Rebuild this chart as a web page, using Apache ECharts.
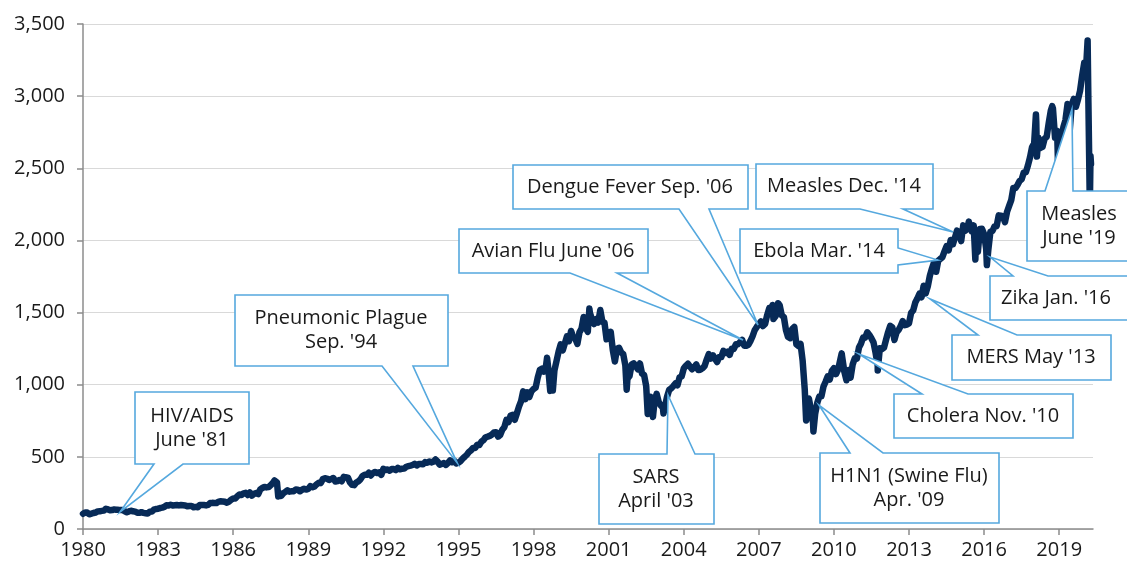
<!DOCTYPE html>
<html>
<head>
<meta charset="utf-8">
<script src="https://cdn.jsdelivr.net/npm/echarts@6/dist/echarts.min.js"></script>
<style>
  html, body { margin: 0; padding: 0; background: #fff; }
  #chart { width: 1127px; height: 564px; }
</style>
</head>
<body>
<div id="chart"></div>
<script>
// S&P 500 month-end closes, one array per decade (Jan..Dec)
var closes1980s = [
  114.2, 113.7, 102.1, 106.3, 111.2, 114.2, 121.7, 122.4, 125.5, 127.5, 140.5, 135.8,
  129.6, 131.3, 136.0, 132.8, 132.6, 131.2, 130.9, 122.8, 116.2, 121.9, 126.4, 122.6,
  120.4, 113.1, 112.0, 116.4, 111.9, 109.6, 107.1, 119.5, 120.4, 133.7, 138.5, 140.6,
  145.3, 148.1, 153.0, 164.4, 162.4, 168.1, 162.6, 164.4, 166.1, 163.6, 166.4, 164.9,
  163.4, 157.1, 159.2, 160.1, 150.6, 153.2, 150.7, 166.7, 166.1, 166.1, 163.6, 167.2,
  179.6, 181.2, 180.7, 179.8, 189.6, 191.9, 190.9, 188.6, 182.1, 189.8, 202.2, 211.3,
  211.8, 226.9, 238.9, 235.5, 247.4, 250.8, 236.1, 252.9, 231.3, 244.0, 249.2, 242.2,
  274.1, 284.2, 291.7, 288.4, 290.1, 304.0, 318.7, 329.8, 321.8, 251.8, 230.3, 247.1,
  257.1, 267.8, 258.9, 261.3, 262.2, 273.5, 272.0, 261.5, 271.9, 279.0, 273.7, 277.7,
  297.5, 288.9, 294.9, 309.6, 320.5, 318.0, 346.1, 351.5, 349.2, 340.4, 346.0, 353.4
];
var closes1990s = [
  329.1, 331.9, 339.9, 330.8, 361.2, 358.0, 356.2, 322.6, 306.1, 304.0, 322.2, 330.2,
  343.9, 367.1, 375.2, 375.3, 389.8, 371.2, 387.8, 395.4, 387.9, 392.5, 375.2, 417.1,
  408.8, 412.7, 403.7, 415.0, 415.4, 408.1, 424.2, 414.0, 417.8, 418.7, 431.4, 435.7,
  438.8, 443.4, 451.7, 440.2, 450.2, 450.5, 448.1, 463.6, 458.9, 467.8, 461.8, 466.5,
  481.6, 467.1, 445.8, 450.9, 456.5, 444.3, 458.3, 475.5, 462.7, 472.4, 454.0, 459.3,
  470.4, 487.4, 500.7, 514.7, 533.4, 544.8, 562.1, 561.9, 584.4, 581.5, 605.4, 615.9,
  636.0, 640.4, 645.5, 654.2, 669.1, 670.6, 640.0, 652.0, 687.3, 705.3, 757.0, 740.7,
  786.2, 790.8, 757.1, 801.3, 848.3, 885.1, 954.3, 899.5, 947.3, 914.6, 955.4, 970.4,
  980.3, 1049.3, 1101.8, 1111.8, 1090.8, 1133.8, 1120.7, 957.3, 1017.0, 1098.7, 1163.6, 1229.2,
  1279.6, 1238.3, 1286.4, 1335.2, 1301.8, 1372.7, 1328.7, 1320.4, 1282.7, 1362.9, 1388.9, 1469.3
];
var closes2000s = [
  1394.5, 1366.4, 1498.6, 1452.4, 1420.6, 1454.6, 1430.8, 1517.7, 1436.5, 1429.4, 1315.2, 1320.3,
  1366.0, 1239.9, 1160.3, 1249.5, 1255.8, 1224.4, 1211.2, 1133.6, 1040.9, 1059.8, 1139.5, 1148.1,
  1130.2, 1106.7, 1147.4, 1076.9, 1067.1, 989.8, 911.6, 916.1, 815.3, 885.8, 936.3, 879.8,
  855.7, 841.2, 848.2, 916.9, 963.6, 974.5, 990.3, 1008.0, 996.0, 1050.7, 1058.2, 1111.9,
  1131.1, 1144.9, 1126.2, 1107.3, 1120.7, 1140.8, 1101.7, 1104.2, 1114.6, 1130.2, 1173.8, 1211.9,
  1181.3, 1203.6, 1180.6, 1156.9, 1191.5, 1191.3, 1234.2, 1220.3, 1228.8, 1207.0, 1249.5, 1248.3,
  1280.1, 1280.7, 1294.9, 1310.6, 1270.1, 1270.2, 1276.7, 1303.8, 1335.9, 1377.9, 1400.6, 1418.3,
  1438.2, 1406.8, 1420.9, 1482.4, 1530.6, 1503.4, 1455.3, 1474.0, 1526.8, 1549.4, 1481.1, 1468.4,
  1378.6, 1330.6, 1322.7, 1385.6, 1400.4, 1280.0, 1267.4, 1282.8, 1166.4, 968.8, 896.2, 903.3,
  825.9, 735.1, 797.9, 872.8, 919.1, 919.3, 987.5, 1020.6, 1057.1, 1036.2, 1095.6, 1115.1
];
var closes2010s = [
  1073.9, 1104.5, 1169.4, 1186.7, 1089.4, 1030.7, 1101.6, 1049.3, 1141.2, 1183.3, 1180.6, 1257.6,
  1286.1, 1327.2, 1325.8, 1363.6, 1345.2, 1320.6, 1292.3, 1218.9, 1131.4, 1253.3, 1247.0, 1257.6,
  1312.4, 1365.7, 1408.5, 1397.9, 1310.3, 1362.2, 1379.3, 1406.6, 1440.7, 1412.2, 1416.2, 1426.2,
  1498.1, 1514.7, 1569.2, 1597.6, 1630.7, 1606.3, 1685.7, 1633.0, 1681.6, 1756.5, 1805.8, 1848.4,
  1782.6, 1859.5, 1872.3, 1884.0, 1923.6, 1960.2, 1930.7, 2003.4, 1972.3, 2018.1, 2067.6, 2058.9,
  1995.0, 2104.5, 2067.9, 2085.5, 2107.4, 2063.1, 2103.8, 1972.2, 1920.0, 2079.4, 2080.4, 2043.9,
  1940.2, 1932.2, 2059.7, 2065.3, 2097.0, 2098.9, 2173.6, 2171.0, 2168.3, 2126.2, 2198.8, 2238.8,
  2278.9, 2363.6, 2362.7, 2384.2, 2411.8, 2423.4, 2470.3, 2471.7, 2519.4, 2575.3, 2647.6, 2673.6,
  2823.8, 2713.8, 2640.9, 2648.1, 2705.3, 2718.4, 2816.3, 2901.5, 2914.0, 2711.7, 2760.2, 2506.9,
  2704.1, 2784.5, 2834.4, 2945.8, 2752.1, 2941.8, 2980.4, 2926.5, 2976.7, 3037.6, 3141.0, 3230.8
];
var closes2020 = [3225.5, 2954.2, 2584.6];

// intra-month highs / lows (decimal year, level)
var swingDates  = [1980.0, 1987.65, 1987.80, 1990.78, 1998.54, 1998.77, 2000.23, 2000.67, 2001.72,
                   2002.56, 2002.77, 2003.19, 2007.55, 2007.77, 2008.89, 2009.18, 2010.31, 2010.50,
                   2011.75, 2015.39, 2015.65, 2016.11, 2018.07, 2018.11, 2018.72, 2018.98, 2019.42,
                   2020.135, 2020.224, 2020.27];
var swingLevels = [105.8, 336.8, 224.8, 295.5, 1186.8, 959.4, 1527.5, 1520.8, 965.8,
                   797.7, 776.8, 800.7, 1553.1, 1565.2, 752.4, 676.5, 1217.3, 1022.6,
                   1099.2, 2130.8, 1867.6, 1829.1, 2872.9, 2581.0, 2930.8, 2351.1, 2744.5,
                   3386.2, 2237.4, 2530.0];

var tickYears = [1980, 1983, 1986, 1989, 1992, 1995, 1998, 2001, 2004, 2007, 2010, 2013, 2016, 2019];

// outbreak callouts
var eventNames = ["HIV/AIDS\nJune '81", "Pneumonic Plague\nSep. '94", "SARS\nApril '03",
                  "Avian Flu June '06", "Dengue Fever Sep. '06", "H1N1 (Swine Flu)\nApr. '09",
                  "Cholera Nov. '10", "MERS May '13", "Ebola Mar. '14", "Measles Dec. '14",
                  "Zika Jan. '16", "Measles\nJune '19"];
var eventDates  = [1981.48, 1994.95, 2003.37, 2006.37, 2006.97, 2009.40, 2011.00, 2013.84, 2014.16, 2014.76, 2016.24, 2019.51];
var eventLevels = [118, 458, 929, 1310, 1414, 859, 1213, 1594, 1864, 2058, 1885, 2910];

// box layout: x0, y0, x1, y1, side of the pointer, pointer base from / to, text centre x
var boxLayout = [
  [135, 392, 249, 464, 'bottom', 154, 183, 192],
  [235, 295, 448, 366, 'bottom', 382, 413, 341],
  [599, 454, 714, 524, 'top', 667, 695, 656],
  [459, 229, 648, 273, 'bottom', 570, 617, 553],
  [513, 165, 748, 209, 'bottom', 679, 709, 630],
  [820, 453, 999, 523, 'top', 850, 883, 909],
  [894, 394, 1073, 438, 'top', 922, 968, 983],
  [952, 335, 1111, 380, 'top', 978, 1017, 1031],
  [740, 229, 898, 273, 'right', 248, 265, 819],
  [756, 164, 933, 209, 'bottom', 860, 903, 844],
  [990, 276, 1140, 320, 'top', 1013, 1048, 1056],
  [1027, 191, 1140, 261, 'top', 1045, 1073, 1079]
];

var seriesData = [];
function addDecade(start, arr) {
  for (var i = 0; i < arr.length; i++) {
    seriesData.push([start + (i + 1) / 12, arr[i]]);
  }
}
addDecade(1980, closes1980s);
addDecade(1990, closes1990s);
addDecade(2000, closes2000s);
addDecade(2010, closes2010s);
addDecade(2020, closes2020);
for (var s = 0; s < swingDates.length; s++) {
  seriesData.push([swingDates[s], swingLevels[s]]);
}
seriesData.sort(function (a, b) { return a[0] - b[0]; });

var myChart = echarts.init(document.getElementById('chart'));
var FONT = '"Open Sans", "Noto Sans", sans-serif';

var option = {
  animation: false,
  backgroundColor: '#fff',
  grid: { left: 83, right: 34, top: 24, bottom: 35 },
  xAxis: {
    type: 'value',
    min: 1980,
    max: 2020.35,
    interval: 3,
    axisLine: { lineStyle: { color: '#8c8c8c', width: 1.5 } },
    axisTick: { show: true, length: 6, customValues: tickYears, lineStyle: { color: '#8c8c8c', width: 1.5 } },
    axisLabel: {
      customValues: tickYears,
      margin: 11,
      color: '#1a1a1a',
      fontSize: 20,
      fontFamily: FONT,
      formatter: function (v) { return String(Math.round(v)); }
    },
    splitLine: { show: false }
  },
  yAxis: {
    type: 'value',
    min: 0,
    max: 3500,
    interval: 500,
    axisLine: { show: true, lineStyle: { color: '#8c8c8c', width: 1.5 } },
    axisTick: { show: true, length: 6, lineStyle: { color: '#8c8c8c', width: 1.5 } },
    axisLabel: {
      margin: 18,
      color: '#1a1a1a',
      fontSize: 20,
      fontFamily: FONT,
      formatter: function (v) { return v.toLocaleString('en-US'); }
    },
    splitLine: { show: true, lineStyle: { color: '#d9d9d9', width: 1.2 } }
  },
  series: [{
    type: 'line',
    data: seriesData,
    showSymbol: false,
    symbol: 'none',
    clip: false,
    lineStyle: { color: '#072a57', width: 6.5, join: 'round', cap: 'round' },
    z: 2
  }]
};
myChart.setOption(option);

// callouts: box + pointer to the level on the line
var graphics = [];
for (var k = 0; k < eventNames.length; k++) {
  var b = boxLayout[k];
  var p = myChart.convertToPixel({ gridIndex: 0 }, [eventDates[k], eventLevels[k]]);
  var x0 = b[0], y0 = b[1], x1 = b[2], y1 = b[3];
  var pts;
  if (b[4] === 'top') {
    pts = [[x0, y0], [b[5], y0], p, [b[6], y0], [x1, y0], [x1, y1], [x0, y1]];
  } else if (b[4] === 'bottom') {
    pts = [[x0, y0], [x1, y0], [x1, y1], [b[6], y1], p, [b[5], y1], [x0, y1]];
  } else {
    pts = [[x0, y0], [x1, y0], [x1, b[5]], p, [x1, b[6]], [x1, y1], [x0, y1]];
  }
  graphics.push({
    type: 'polygon',
    z: 100,
    shape: { points: pts },
    style: { fill: '#fff', stroke: '#55a8de', lineWidth: 1.6, lineJoin: 'miter' }
  });
  graphics.push({
    type: 'text',
    z: 101,
    style: {
      text: eventNames[k],
      x: b[7],
      y: (y0 + y1) / 2,
      align: 'center',
      verticalAlign: 'middle',
      textAlign: 'center',
      textVerticalAlign: 'middle',
      font: '20px ' + FONT,
      lineHeight: 24,
      fill: '#1a1a1a'
    }
  });
}
myChart.setOption({ graphic: { elements: graphics } });
</script>
</body>
</html>
